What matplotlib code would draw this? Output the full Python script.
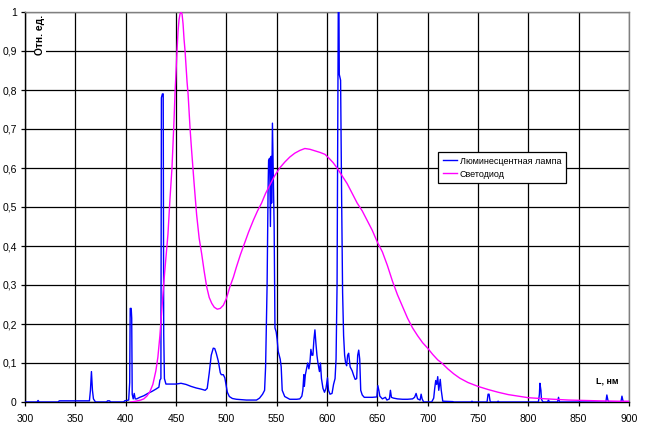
import matplotlib
matplotlib.use("Agg")
import matplotlib.pyplot as plt
from matplotlib.ticker import FuncFormatter, MultipleLocator

plt.rcParams['font.family'] = ['Liberation Sans', 'DejaVu Sans']

# fluorescent lamp spectrum (wavelength nm, relative units)
lamp_nm = [
    300, 312, 313, 314, 333, 334, 364, 365, 366, 367, 368, 369, 370, 381, 382, 384, 385,
    398, 399, 403, 404, 404.5, 405.5, 406, 406.5, 407.5, 408.5, 409.5, 411, 414, 418,
    422, 426, 430, 433, 434, 435, 435.5, 436.5, 437.3, 437.8, 438.5, 440, 445, 450, 455,
    460, 465, 470, 475, 479, 481, 483, 485, 487, 488.5, 490, 492, 494, 495, 497, 498.5,
    500, 501, 503, 506, 510, 520, 530, 533, 536, 538, 539, 540.5, 541.5, 542, 543,
    543.8, 544.5, 545, 545.8, 546.5, 547.5, 548.3, 549.5, 550.5, 551.5, 553.5, 554.5,
    555.5, 558, 563, 570, 573, 575, 576, 577, 577.5, 578.5, 580, 580.8, 582, 583, 584,
    585, 586, 587, 588, 589, 590, 591, 592.5, 593.5, 594.5, 596, 597.5, 599, 600.5,
    601.5, 603, 605, 606.5, 608, 609, 610, 610.8, 611.5, 612.2, 613.5, 614.5, 615.5,
    616.5, 617.5, 618.5, 619.5, 620.5, 621.5, 623, 625, 626.5, 628, 629.5, 630.5, 631.5,
    632.5, 633.5, 635, 637, 640, 645, 649.5, 650.5, 651.5, 652.5, 655, 658, 659.5, 662,
    663, 664, 666, 670, 675, 680, 685, 687, 688.5, 690, 692.5, 693.5, 694.5, 696, 704,
    706, 707, 708, 709, 710, 711, 712.5, 713.5, 715, 725, 726, 743, 744, 745, 759, 760,
    761, 762, 763, 769, 770, 771, 810, 811, 811.5, 812.5, 813, 814, 815, 819, 820, 821,
    829, 830, 831, 877, 878, 879, 880, 892, 893, 894, 895, 900,
]
lamp_val = [
    0, 0, 0.004, 0, 0, 0.003, 0.003, 0.03, 0.078, 0.03, 0.008, 0.004, 0, 0, 0.003, 0.003, 0,
    0, 0.003, 0.005, 0.05, 0.24, 0.24, 0.215, 0.02, 0.008, 0.022, 0.008, 0.008, 0.012, 0.016,
    0.022, 0.027, 0.033, 0.038, 0.056, 0.06, 0.78, 0.79, 0.79, 0.175, 0.06, 0.046, 0.046, 0.046, 0.048,
    0.045, 0.04, 0.036, 0.033, 0.03, 0.035, 0.074, 0.12, 0.138, 0.137, 0.125, 0.105, 0.075, 0.07, 0.07, 0.062,
    0.04, 0.025, 0.014, 0.009, 0.007, 0.005, 0.005, 0.01, 0.02, 0.03, 0.09, 0.3, 0.55, 0.62, 0.625,
    0.45, 0.63, 0.51, 0.715, 0.6, 0.45, 0.19, 0.18, 0.16, 0.13, 0.11, 0.09,
    0.03, 0.014, 0.007, 0.007, 0.008, 0.015, 0.03, 0.07, 0.04, 0.07, 0.09, 0.1, 0.085, 0.1, 0.135,
    0.12, 0.12, 0.16, 0.185, 0.15, 0.12, 0.1, 0.078, 0.1, 0.06, 0.035, 0.025, 0.035, 0.062,
    0.03, 0.02, 0.022, 0.045, 0.06, 0.11, 0.3, 0.75, 1.2, 0.84, 0.825, 0.53, 0.28,
    0.17, 0.12, 0.1, 0.093, 0.12, 0.125, 0.09, 0.08, 0.068, 0.058, 0.06, 0.12, 0.133,
    0.11, 0.03, 0.018, 0.012, 0.012, 0.012, 0.013, 0.042, 0.03, 0.015, 0.008, 0.012, 0.005, 0.008,
    0.03, 0.012, 0.01, 0.008, 0.007, 0.007, 0.008, 0.012, 0.022, 0.008, 0.005, 0.02, 0.008, 0, 0,
    0.01, 0.035, 0.055, 0.045, 0.065, 0.03, 0.058, 0.03, 0.002, 0.001, 0, 0, 0.002, 0, 0, 0.02,
    0.02, 0.002, 0, 0, 0.002, 0, 0, 0.02, 0.048, 0.03, 0.008, 0.002, 0, 0, 0.005, 0,
    0, 0.012, 0, 0, 0.018, 0.005, 0, 0, 0.015, 0.003, 0, 0,
]

# LED spectrum
led_nm = [
    405, 410, 415, 418, 421, 424, 427, 430, 432, 434, 436, 438, 440, 442, 444, 446, 448,
    449, 451, 452, 453, 454, 455, 456, 457, 458, 459, 461, 462, 464, 465.5, 468, 470.5,
    473, 475.5, 478, 480.5, 483, 485.5, 488, 491, 494, 497, 500, 503.5, 507, 510, 514,
    518.5, 522, 527, 531, 535, 539, 543, 548, 553, 558, 563, 568, 573, 578, 583, 588,
    593, 598, 602, 606, 610, 615, 620, 625, 630, 635, 640, 645, 650, 655, 660, 665, 670,
    675, 680, 685, 690, 695, 700, 705, 710, 714, 720, 726, 732, 740, 750, 760, 770, 780,
    790, 800, 812, 825, 840, 855, 870, 890, 900,
]
led_val = [
    0, 0.002, 0.005, 0.008, 0.015, 0.026, 0.045, 0.08, 0.115, 0.17, 0.24, 0.31, 0.37, 0.43, 0.52, 0.6, 0.72,
    0.79, 0.9, 0.95, 0.98, 0.995, 1.0, 0.995, 0.97, 0.93, 0.9, 0.82, 0.79, 0.7, 0.645, 0.56, 0.48,
    0.42, 0.38, 0.335, 0.295, 0.268, 0.253, 0.243, 0.238, 0.24, 0.248, 0.265, 0.295, 0.32, 0.346, 0.378,
    0.41, 0.435, 0.467, 0.49, 0.51, 0.535, 0.555, 0.58, 0.6, 0.615, 0.628, 0.638, 0.645, 0.65, 0.648, 0.644,
    0.64, 0.635, 0.625, 0.614, 0.6, 0.58, 0.56, 0.535, 0.51, 0.49, 0.465, 0.44, 0.41, 0.385, 0.35, 0.31, 0.275,
    0.245, 0.215, 0.19, 0.17, 0.152, 0.138, 0.122, 0.108, 0.1, 0.085, 0.072, 0.061, 0.05, 0.04, 0.032, 0.025, 0.019,
    0.015, 0.011, 0.009, 0.007, 0.005, 0.004, 0.003, 0.002, 0.002,
]

series_labels = ["Люминесцентная лампа", "Светодиод"]

fig = plt.figure(figsize=(6.45, 4.28), dpi=100, facecolor='white')
ax = fig.add_axes([25 / 645, 26 / 428, 604 / 645, 390 / 428])

ax.plot(lamp_nm, lamp_val, color='#0000ff', lw=1.0, label=series_labels[0], zorder=3)
ax.plot(led_nm, led_val, color='#ff00ff', lw=1.0, label=series_labels[1], zorder=4)

ax.set_xlim(300, 900)
ax.set_ylim(0, 1)
ax.xaxis.set_major_locator(MultipleLocator(50))
ax.yaxis.set_major_locator(MultipleLocator(0.1))
ax.yaxis.set_major_formatter(FuncFormatter(lambda v, p: ('%g' % round(v, 1)).replace('.', ',')))
ax.grid(True, color='black', lw=0.9)
ax.set_axisbelow(True)

for side in ('top', 'right'):
    ax.spines[side].set_color('#808080')
    ax.spines[side].set_linewidth(1.0)
for side in ('left', 'bottom'):
    ax.spines[side].set_color('black')
    ax.spines[side].set_linewidth(1.0)

ax.tick_params(axis='both', direction='out', length=3, width=0.9, labelsize=7.5)
ax.tick_params(axis='x', pad=6)
ax.tick_params(axis='y', pad=3)

ax.text(0.025, 0.992, "Отн. ед.", transform=ax.transAxes, rotation=90,
        ha='center', va='top', fontsize=7.4, fontweight='bold',
        bbox=dict(facecolor='white', edgecolor='none', pad=0.5))
ax.text(0.9636, 0.054, "L, нм", transform=ax.transAxes, ha='center', va='center',
        fontsize=6.5, fontweight='bold',
        bbox=dict(facecolor='white', edgecolor='none', pad=0.5))

leg = ax.legend(loc='upper left', bbox_to_anchor=(0.684, 0.641), borderaxespad=0,
                fontsize=6.5, handlelength=1.6, handletextpad=0.3, borderpad=0.5,
                labelspacing=0.45, fancybox=False, framealpha=1, edgecolor='black')
leg.get_frame().set_linewidth(0.9)
leg.set_zorder(10)

fig.savefig('out.png', dpi=100, facecolor='white')
